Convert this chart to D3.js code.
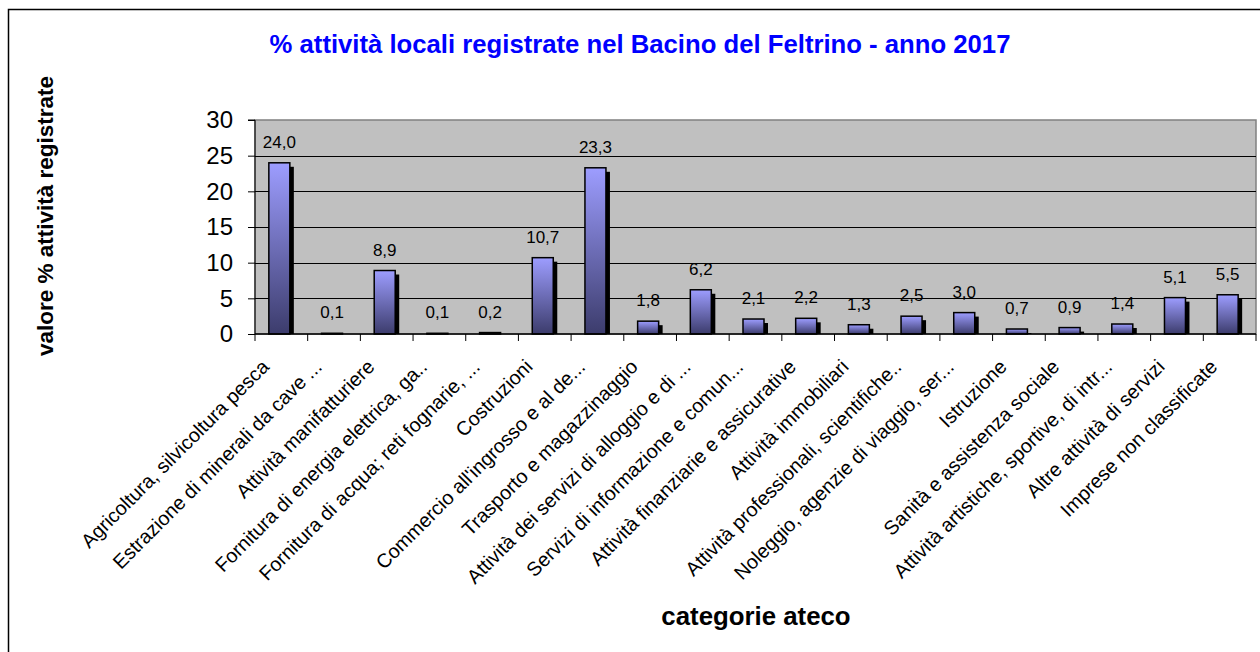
<!DOCTYPE html>
<html>
<head>
<meta charset="utf-8">
<script src="https://cdn.jsdelivr.net/npm/d3@7"></script>
<style>
  body { margin: 0; background: #fff; }
  text { font-family: "Liberation Sans", Arial, sans-serif; }
</style>
</head>
<body>
<div class="chart"></div>
<script>
// data
var categories = [
  "Agricoltura, silvicoltura pesca",
  "Estrazione di minerali da cave ...",
  "Attività manifatturiere",
  "Fornitura di energia elettrica, ga..",
  "Fornitura di acqua; reti fognarie, ...",
  "Costruzioni",
  "Commercio all'ingrosso e al de...",
  "Trasporto e magazzinaggio",
  "Attività dei servizi di alloggio e di ...",
  "Servizi di informazione e comun...",
  "Attività finanziarie e assicurative",
  "Attività immobiliari",
  "Attività professionali, scientifiche..",
  "Noleggio, agenzie di viaggio, ser...",
  "Istruzione",
  "Sanità e assistenza sociale",
  "Attività artistiche, sportive, di intr...",
  "Altre attività di servizi",
  "Imprese non classificate"
];
var values = [24.0, 0.1, 8.9, 0.1, 0.2, 10.7, 23.3, 1.8, 6.2, 2.1, 2.2, 1.3, 2.5, 3.0, 0.7, 0.9, 1.4, 5.1, 5.5];
var yTicks = [0, 5, 10, 15, 20, 25, 30];

var svgWidth = 1260;
var svgHeight = 652;
var margin = {top: 120, right: 4, bottom: 318, left: 255};
var width = svgWidth - margin.left - margin.right;
var height = svgHeight - margin.top - margin.bottom;

var svg = d3.select(".chart")
  .append("svg")
  .attr("width", svgWidth)
  .attr("height", svgHeight);

// gradient for bars
var grad = svg.append("defs").append("linearGradient")
  .attr("id", "barGrad")
  .attr("x1", 0).attr("y1", 0).attr("x2", 0).attr("y2", 1);
grad.append("stop").attr("offset", "0%").attr("stop-color", "#9d9dff");
grad.append("stop").attr("offset", "100%").attr("stop-color", "#3c3c6c");

// outer frame
svg.append("rect")
  .attr("x", 8.5).attr("y", 9.5)
  .attr("width", 1270).attr("height", 660)
  .attr("fill", "none")
  .attr("stroke", "#000")
  .attr("stroke-width", 1.5);

// title
svg.append("text")
  .attr("x", 640).attr("y", 53)
  .attr("text-anchor", "middle")
  .attr("font-size", 25.7)
  .attr("font-weight", "bold")
  .attr("fill", "#0000ff")
  .text("% attività locali registrate nel Bacino del Feltrino - anno 2017");

var chartGroup = svg.append("g")
  .attr("transform", `translate(${margin.left}, ${margin.top})`);

var x = d3.scaleBand()
  .domain(categories)
  .range([0, width])
  .padding(0);
var y = d3.scaleLinear()
  .domain([0, 30])
  .range([height, 0]);

// plot background
chartGroup.append("rect")
  .attr("width", width).attr("height", height)
  .attr("fill", "#c0c0c0")
  .attr("stroke", "#808080")
  .attr("stroke-width", 1.5);

// gridlines
chartGroup.selectAll(".grid")
  .data(yTicks.filter(d => d > 0 && d < 30))
  .enter()
  .append("line")
  .attr("x1", 0).attr("x2", width)
  .attr("y1", d => Math.round(y(d)) + 0.5)
  .attr("y2", d => Math.round(y(d)) + 0.5)
  .attr("stroke", "#000")
  .attr("stroke-width", 1);

// bars
var bw = 21, shadow = 4;
var bars = chartGroup.selectAll(".bar")
  .data(values)
  .enter()
  .append("g");
bars.append("rect")
  .attr("x", (d, i) => x(categories[i]) + (x.bandwidth() - bw - shadow) / 2 + shadow)
  .attr("y", d => y(d) + shadow)
  .attr("width", bw)
  .attr("height", d => Math.max(0, height - y(d) - shadow))
  .attr("fill", "#000");
bars.append("rect")
  .attr("x", (d, i) => x(categories[i]) + (x.bandwidth() - bw - shadow) / 2)
  .attr("y", d => y(d))
  .attr("width", bw)
  .attr("height", d => height - y(d))
  .attr("fill", "url(#barGrad)")
  .attr("stroke", "#000")
  .attr("stroke-width", 1.5);

// value labels
chartGroup.selectAll(".val")
  .data(values)
  .enter()
  .append("text")
  .attr("x", (d, i) => x(categories[i]) + (x.bandwidth() - shadow) / 2)
  .attr("y", d => y(d) - 15)
  .attr("text-anchor", "middle")
  .attr("font-size", 17)
  .text(d => d.toFixed(1).replace(".", ","));

// axes
var leftAxis = d3.axisLeft(y).tickValues(yTicks).tickSize(7).tickPadding(15);
var yAxisG = chartGroup.append("g").call(leftAxis);
yAxisG.select(".domain").attr("d", `M-7,0H0V${height + 7}`);
yAxisG.selectAll("text")
  .attr("font-size", 24)
  .attr("font-family", "Liberation Sans, Arial, sans-serif");

var bottomAxis = d3.axisBottom(x).tickSize(0).tickFormat("");
var xAxisG = chartGroup.append("g")
  .attr("transform", `translate(0, ${height})`)
  .call(bottomAxis);
xAxisG.select(".domain").attr("d", `M0,0H${width}`).attr("stroke-width", 1.5);
xAxisG.selectAll(".sep")
  .data(categories)
  .enter()
  .append("line")
  .attr("x1", d => x(d) + x.bandwidth())
  .attr("x2", d => x(d) + x.bandwidth())
  .attr("y1", 0).attr("y2", 7)
  .attr("stroke", "#000");

// rotated category labels
chartGroup.selectAll(".xlab")
  .data(categories)
  .enter()
  .append("text")
  .attr("transform", d => `translate(${x(d) + x.bandwidth() / 2 - 11}, ${height + 34}) rotate(-45)`)
  .attr("text-anchor", "end")
  .attr("font-size", 19.8)
  .text(d => d);

// axis titles
svg.append("text")
  .attr("transform", "translate(53, 216) rotate(-90)")
  .attr("text-anchor", "middle")
  .attr("font-size", 22.5)
  .attr("font-weight", "bold")
  .text("valore % attività registrate");

svg.append("text")
  .attr("x", 756).attr("y", 625)
  .attr("text-anchor", "middle")
  .attr("font-size", 25.8)
  .attr("font-weight", "bold")
  .text("categorie ateco");
</script>
</body>
</html>
